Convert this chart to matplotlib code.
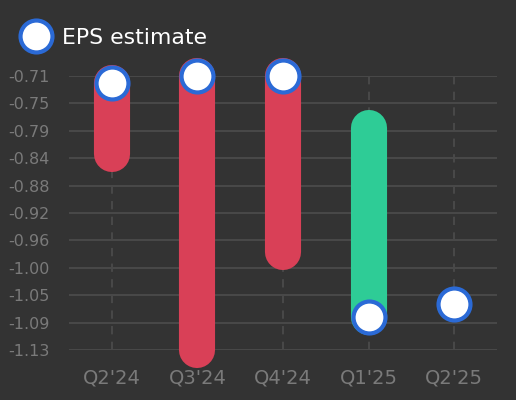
import matplotlib
matplotlib.use("Agg")
import matplotlib.pyplot as plt
from matplotlib.lines import Line2D
import numpy as np

# EPS estimate vs actual per quarter
quarters = ["Q2'24", "Q3'24", "Q4'24", "Q1'25", "Q2'25"]
estimate = [-0.72, -0.71, -0.71, -1.08, -1.06]
actual = [-0.83, -1.13, -0.98, -0.79, None]

ytick_vals = np.linspace(-1.13, -0.71, 11)
ytick_labels = ["%.2f" % v for v in ytick_vals]

bg = '#333333'
grid_c = '#484848'
label_c = '#7a7a7a'
red = '#d94057'
green = '#2ecc96'
blue = '#2b6ad6'

fig = plt.figure(figsize=(5.16, 4), dpi=100, facecolor=bg)
# axes spans exactly the gridlines: x 69..497 px, y 76..350 px
ax = fig.add_axes([69 / 516, 1 - 350 / 400, 428 / 516, 274 / 400])
ax.set_facecolor(bg)
ax.set_xlim(-0.5, len(quarters) - 0.5)
ax.set_ylim(ytick_vals[0], ytick_vals[-1])

for v in ytick_vals:
    ax.axhline(v, color=grid_c, lw=1.5, zorder=1)
for i in range(len(quarters)):
    ax.plot([i, i], [ytick_vals[0], ytick_vals[-1]], color=grid_c, lw=1.5,
            linestyle=(0, (4, 3.5)), zorder=1, clip_on=False)

# bars from estimate to actual
for i, (e, a) in enumerate(zip(estimate, actual)):
    if a is None:
        continue
    c = green if a > e else red
    ax.plot([i, i], [e, a], color=c, lw=26, solid_capstyle='round',
            zorder=2, clip_on=False)

ax.plot(range(len(quarters)), estimate, linestyle='none', marker='o',
        markersize=23, markerfacecolor='white', markeredgecolor=blue,
        markeredgewidth=3, zorder=3, clip_on=False)

ax.set_xticks(range(len(quarters)))
ax.set_xticklabels(quarters, fontsize=14, color=label_c)
ax.set_yticks(ytick_vals)
ax.set_yticklabels(ytick_labels, fontsize=11.5, color=label_c)
ax.tick_params(axis='both', length=0)
ax.tick_params(axis='y', pad=14)
ax.tick_params(axis='x', pad=13.5)
for s in ax.spines.values():
    s.set_visible(False)

handle = Line2D([], [], linestyle='none', marker='o', markersize=23,
                markerfacecolor='white', markeredgecolor=blue, markeredgewidth=3)
leg = fig.legend(handles=[handle], labels=['EPS estimate'], loc='center left',
                 bbox_to_anchor=(18.5 / 516, 1 - 38 / 400), frameon=False,
                 borderpad=0, borderaxespad=0, handlelength=1.6,
                 handletextpad=0.39, fontsize=15.8)
for t in leg.get_texts():
    t.set_color('white')

fig.savefig('out.png', dpi=100, facecolor=bg)
